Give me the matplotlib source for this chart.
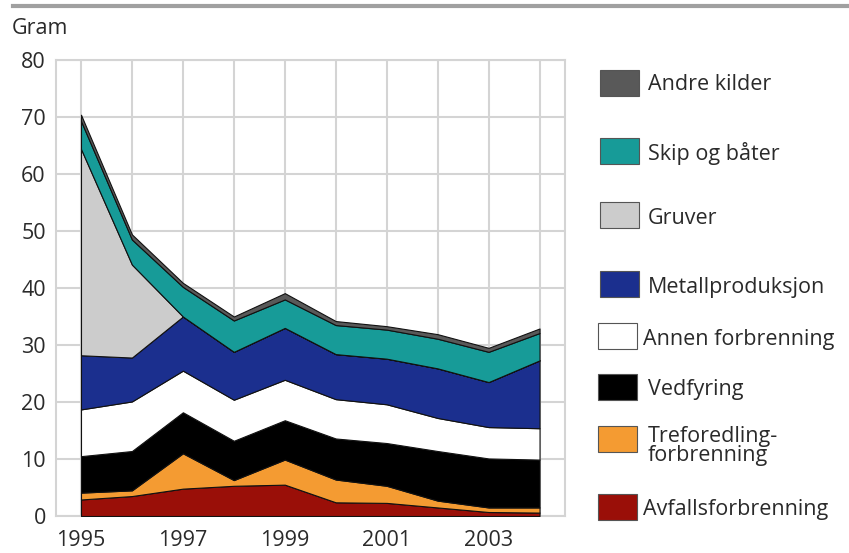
import matplotlib.pyplot as plt
import matplotlib.patches as mpatches
from matplotlib.lines import Line2D
import numpy as np

plt.rcParams['font.family'] = ['Open Sans', 'DejaVu Sans']

# Utslipp per år (gram), stablet fra bunnen og opp
years = np.arange(1995, 2005)
avfall = [2.9, 3.5, 4.8, 5.3, 5.5, 2.4, 2.3, 1.5, 0.7, 0.6]
treforedling = [1.2, 1.0, 6.2, 1.0, 4.4, 4.0, 3.0, 1.2, 0.8, 0.9]
vedfyring = [6.4, 6.9, 7.2, 6.9, 6.9, 7.2, 7.5, 8.7, 8.6, 8.4]
annen = [8.2, 8.7, 7.3, 7.2, 7.1, 6.9, 6.8, 5.8, 5.5, 5.5]
metall = [9.5, 7.7, 9.5, 8.4, 9.1, 7.9, 8.0, 8.7, 7.9, 11.9]
gruver = [36.2, 16.3, 0, 0, 0, 0, 0, 0, 0, 0]
skip = [4.9, 4.4, 5.2, 5.5, 5.0, 5.1, 5.1, 5.2, 5.3, 4.8]
andre = [1.1, 0.9, 0.7, 0.7, 1.1, 0.7, 0.6, 0.8, 0.7, 0.8]

series = [avfall, treforedling, vedfyring, annen, metall, gruver, skip, andre]
names = ["Avfallsforbrenning", "Treforedling-\nforbrenning", "Vedfyring",
         "Annen forbrenning", "Metallproduksjon", "Gruver",
         "Skip og båter", "Andre kilder"]
colors = ["#9a0f08", "#f49b32", "#000000", "#ffffff", "#1b2f8e",
          "#cccccc", "#179b98", "#595959"]

FS = 15.5
TXT = "#2a2a2a"

fig = plt.figure(figsize=(8.49, 5.53), dpi=100)
ax = fig.add_axes([0.0654, 0.0669, 0.6001, 0.8246])

ax.stackplot(years, *series, colors=colors, edgecolor="#111111",
             linewidth=0.8, zorder=3)

ax.set_xlim(1994.5, 2004.5)
ax.set_ylim(0, 80)
ax.set_yticks(np.arange(0, 81, 10))
ax.set_xticks(years)
ax.set_xticklabels([str(y) if y % 2 == 1 else "" for y in years])
ax.grid(True, color="#d4d4d4", linewidth=1.5, zorder=0)
ax.tick_params(length=0, labelsize=FS, colors=TXT)
ax.tick_params(axis="x", pad=10)
ax.tick_params(axis="y", pad=7)
for s in ax.spines.values():
    s.set_color("#d4d4d4")
    s.set_linewidth(1.5)

# Tittel og linje øverst
fig.add_artist(Line2D([13 / 849, 1], [1 - 6 / 553, 1 - 6 / 553],
                      color="#a0a0a0", linewidth=3))
fig.text(12 / 849, 1 - 29 / 553, "Gram", fontsize=FS, va="center",
         ha="left", color=TXT)

# Forklaring til høyre: (boks x, boks midt y, tekst x, tekst midt y)
legend_pos = {
    "Andre kilder": (600, 83, 648, 85),
    "Skip og båter": (600, 151, 648, 154),
    "Gruver": (600, 215, 648, 218),
    "Metallproduksjon": (600, 284, 648, 288),
    "Annen forbrenning": (598, 336, 643, 339),
    "Vedfyring": (598, 387, 648, 390),
    "Treforedling-\nforbrenning": (598, 439, 648, 446),
    "Avfallsforbrenning": (598, 507, 643, 509),
}
W, H = 849, 553
for name, color in zip(names, colors):
    bx, cy, tx, ty = legend_pos[name]
    fig.add_artist(mpatches.Rectangle((bx / W, 1 - (cy + 13) / H), 39 / W, 26 / H,
                                      facecolor=color, edgecolor="#555555",
                                      linewidth=0.8))
    fig.text(tx / W, 1 - ty / H, name, fontsize=FS, va="center", ha="left",
             color=TXT, linespacing=0.85)

fig.savefig("out.png", dpi=100)
